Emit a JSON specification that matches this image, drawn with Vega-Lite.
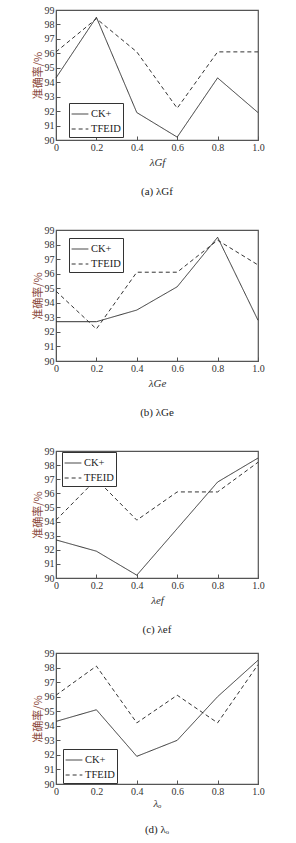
{
  "$schema": "https://vega.github.io/schema/vega-lite/v6.json",
  "padding": {"left": 31, "top": 4, "right": 0, "bottom": 0},
  "background": "white",
  "datasets": {
    "acc": [
      {"p": "a", "x": 0, "s": "CK+", "y": 94.3}, {"p": "a", "x": 0.2, "s": "CK+", "y": 98.5}, {"p": "a", "x": 0.4, "s": "CK+", "y": 91.9}, {"p": "a", "x": 0.6, "s": "CK+", "y": 90.2}, {"p": "a", "x": 0.8, "s": "CK+", "y": 94.3}, {"p": "a", "x": 1.0, "s": "CK+", "y": 91.9},
      {"p": "a", "x": 0, "s": "TFEID", "y": 96.1}, {"p": "a", "x": 0.2, "s": "TFEID", "y": 98.4}, {"p": "a", "x": 0.4, "s": "TFEID", "y": 96.1}, {"p": "a", "x": 0.6, "s": "TFEID", "y": 92.2}, {"p": "a", "x": 0.8, "s": "TFEID", "y": 96.1}, {"p": "a", "x": 1.0, "s": "TFEID", "y": 96.1},
      {"p": "b", "x": 0, "s": "CK+", "y": 92.7}, {"p": "b", "x": 0.2, "s": "CK+", "y": 92.7}, {"p": "b", "x": 0.4, "s": "CK+", "y": 93.5}, {"p": "b", "x": 0.6, "s": "CK+", "y": 95.1}, {"p": "b", "x": 0.8, "s": "CK+", "y": 98.5}, {"p": "b", "x": 1.0, "s": "CK+", "y": 92.8},
      {"p": "b", "x": 0, "s": "TFEID", "y": 94.8}, {"p": "b", "x": 0.2, "s": "TFEID", "y": 92.2}, {"p": "b", "x": 0.4, "s": "TFEID", "y": 96.1}, {"p": "b", "x": 0.6, "s": "TFEID", "y": 96.1}, {"p": "b", "x": 0.8, "s": "TFEID", "y": 98.3}, {"p": "b", "x": 1.0, "s": "TFEID", "y": 96.6},
      {"p": "c", "x": 0, "s": "CK+", "y": 92.7}, {"p": "c", "x": 0.2, "s": "CK+", "y": 91.9}, {"p": "c", "x": 0.4, "s": "CK+", "y": 90.2}, {"p": "c", "x": 0.6, "s": "CK+", "y": 93.5}, {"p": "c", "x": 0.8, "s": "CK+", "y": 96.8}, {"p": "c", "x": 1.0, "s": "CK+", "y": 98.5},
      {"p": "c", "x": 0, "s": "TFEID", "y": 94.1}, {"p": "c", "x": 0.2, "s": "TFEID", "y": 97.0}, {"p": "c", "x": 0.4, "s": "TFEID", "y": 94.1}, {"p": "c", "x": 0.6, "s": "TFEID", "y": 96.1}, {"p": "c", "x": 0.8, "s": "TFEID", "y": 96.1}, {"p": "c", "x": 1.0, "s": "TFEID", "y": 98.2},
      {"p": "d", "x": 0, "s": "CK+", "y": 94.3}, {"p": "d", "x": 0.2, "s": "CK+", "y": 95.1}, {"p": "d", "x": 0.4, "s": "CK+", "y": 91.9}, {"p": "d", "x": 0.6, "s": "CK+", "y": 93.0}, {"p": "d", "x": 0.8, "s": "CK+", "y": 96.0}, {"p": "d", "x": 1.0, "s": "CK+", "y": 98.5},
      {"p": "d", "x": 0, "s": "TFEID", "y": 96.1}, {"p": "d", "x": 0.2, "s": "TFEID", "y": 98.1}, {"p": "d", "x": 0.4, "s": "TFEID", "y": 94.2}, {"p": "d", "x": 0.6, "s": "TFEID", "y": 96.1}, {"p": "d", "x": 0.8, "s": "TFEID", "y": 94.2}, {"p": "d", "x": 1.0, "s": "TFEID", "y": 98.2}
    ]
  },
  "data": {"name": "acc"},
  "spacing": 11,
  "resolve": {"scale": {"strokeDash": "independent"}, "legend": {"strokeDash": "independent"}},
  "vconcat": [
    {
      "spacing": 26,
      "resolve": {"scale": {"strokeDash": "independent"}, "legend": {"strokeDash": "independent"}},
      "vconcat": [
        {
          "width": 202, "height": 130,
          "transform": [{"filter": "datum.p == 'a'"}],
          "title": {"text": "(a) λGf", "orient": "bottom", "offset": 19},
          "mark": {"type": "line", "strokeWidth": 1, "color": "#333"},
          "encoding": {
            "x": {"field": "x", "type": "quantitative", "scale": {"domain": [0, 1]}, "axis": {"values": [0, 0.2, 0.4, 0.6, 0.8, 1], "labelExpr": "datum.value == 0 ? '0' : format(datum.value, '.1f')", "title": "λGf"}},
            "y": {"field": "y", "type": "quantitative", "scale": {"domain": [90, 99]}, "axis": {"values": [90, 91, 92, 93, 94, 95, 96, 97, 98, 99], "title": "准确率/%"}},
            "strokeDash": {"field": "s", "type": "nominal", "scale": {"domain": ["CK+", "TFEID"], "range": [[1, 0], [4, 3]]}, "legend": {"orient": "none", "legendX": 13, "legendY": 93}}
          }
        },
        {
          "width": 202, "height": 131,
          "transform": [{"filter": "datum.p == 'b'"}],
          "title": {"text": "(b) λGe", "orient": "bottom", "offset": 19},
          "mark": {"type": "line", "strokeWidth": 1, "color": "#333"},
          "encoding": {
            "x": {"field": "x", "type": "quantitative", "scale": {"domain": [0, 1]}, "axis": {"values": [0, 0.2, 0.4, 0.6, 0.8, 1], "labelExpr": "datum.value == 0 ? '0' : format(datum.value, '.1f')", "title": "λGe"}},
            "y": {"field": "y", "type": "quantitative", "scale": {"domain": [90, 99]}, "axis": {"values": [90, 91, 92, 93, 94, 95, 96, 97, 98, 99], "title": "准确率/%"}},
            "strokeDash": {"field": "s", "type": "nominal", "scale": {"domain": ["CK+", "TFEID"], "range": [[1, 0], [4, 3]]}, "legend": {"orient": "none", "legendX": 13, "legendY": 8}}
          }
        },
        {
          "width": 202, "height": 127,
          "transform": [{"filter": "datum.p == 'c'"}],
          "title": {"text": "(c) λef", "orient": "bottom", "offset": 19},
          "mark": {"type": "line", "strokeWidth": 1, "color": "#333"},
          "encoding": {
            "x": {"field": "x", "type": "quantitative", "scale": {"domain": [0, 1]}, "axis": {"values": [0, 0.2, 0.4, 0.6, 0.8, 1], "labelExpr": "datum.value == 0 ? '0' : format(datum.value, '.1f')", "title": "λef"}},
            "y": {"field": "y", "type": "quantitative", "scale": {"domain": [90, 99]}, "axis": {"values": [90, 91, 92, 93, 94, 95, 96, 97, 98, 99], "title": "准确率/%"}},
            "strokeDash": {"field": "s", "type": "nominal", "scale": {"domain": ["CK+", "TFEID"], "range": [[1, 0], [4, 3]]}, "legend": {"orient": "none", "legendX": 6, "legendY": 1}}
          }
        }
      ]
    },
    {
      "width": 202, "height": 131,
      "transform": [{"filter": "datum.p == 'd'"}],
      "title": {"text": "(d) λₒ", "orient": "bottom", "offset": 16},
      "mark": {"type": "line", "strokeWidth": 1, "color": "#333"},
      "encoding": {
        "x": {"field": "x", "type": "quantitative", "scale": {"domain": [0, 1]}, "axis": {"values": [0, 0.2, 0.4, 0.6, 0.8, 1], "labelExpr": "datum.value == 0 ? '0' : format(datum.value, '.1f')", "title": "λₒ", "titlePadding": 1}},
        "y": {"field": "y", "type": "quantitative", "scale": {"domain": [90, 99]}, "axis": {"values": [90, 91, 92, 93, 94, 95, 96, 97, 98, 99], "title": "准确率/%"}},
        "strokeDash": {"field": "s", "type": "nominal", "scale": {"domain": ["CK+", "TFEID"], "range": [[1, 0], [4, 3]]}, "legend": {"orient": "none", "legendX": 7, "legendY": 96}}
      }
    }
  ],
  "config": {
    "view": {"stroke": "#555", "strokeWidth": 1.2},
    "title": {"font": "Liberation Serif", "fontSize": 11, "fontWeight": "normal", "color": "#222"},
    "axis": {"grid": false, "domainColor": "#555", "tickColor": "#555", "tickSize": -4, "labelFont": "Liberation Serif", "labelFontSize": 10, "labelColor": "#333", "titleFont": "Liberation Serif", "titleFontWeight": "normal", "titleColor": "#333"},
    "axisX": {"labelPadding": 6, "titlePadding": 4, "titleFontSize": 11, "titleFontStyle": "italic", "labelFlush": false},
    "axisY": {"labelPadding": 6, "titlePadding": 1, "titleFont": "Noto Sans CJK SC", "titleFontSize": 11, "titleColor": "#8b4a3c"},
    "legend": {"strokeColor": "#333", "padding": 2, "symbolType": "stroke", "symbolSize": 280, "symbolStrokeWidth": 1, "symbolStrokeColor": "#333", "labelFont": "Liberation Serif", "labelFontSize": 10.5, "labelColor": "#222", "rowPadding": 0, "labelOffset": 2, "title": null, "fillColor": "white"}
  }
}
